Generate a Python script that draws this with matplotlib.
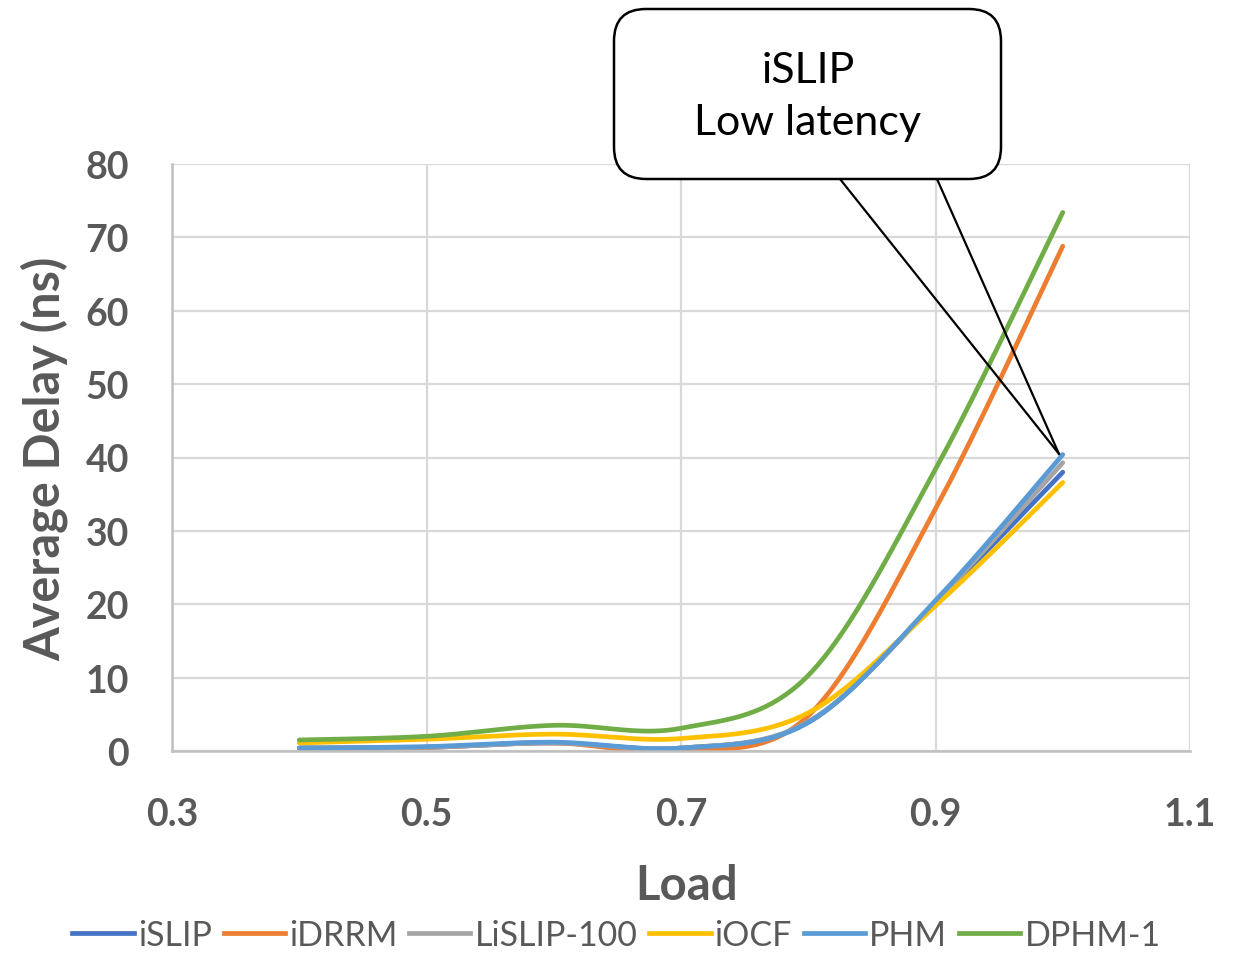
import matplotlib
matplotlib.use("Agg")
import matplotlib.pyplot as plt
import numpy as np
from matplotlib.patches import FancyBboxPatch
from matplotlib.lines import Line2D

load = [0.4, 0.5, 0.6, 0.7, 0.8, 0.9, 1.0]
islip = [0.4, 0.5, 1.1, 0.4, 3.9, 20.2, 38.0]
idrrm = [0.4, 0.5, 1.1, 0.0, 4.8, 33.0, 68.8]
lislip_100 = [0.4, 0.5, 1.1, 0.4, 4.0, 20.3, 39.3]
iocf = [1.1, 1.6, 2.3, 1.7, 5.2, 19.8, 36.6]
phm = [0.4, 0.6, 1.2, 0.4, 3.9, 20.5, 40.4]
dphm_1 = [1.5, 2.0, 3.5, 3.1, 10.3, 38.4, 73.4]

series = ["iSLIP", "iDRRM", "LiSLIP-100", "iOCF", "PHM", "DPHM-1"]
values = [islip, idrrm, lislip_100, iocf, phm, dphm_1]
colors = ["#4472C4", "#ED7D31", "#A5A5A5", "#FFC000", "#5B9BD5", "#70AD47"]

x_ticks = [0.3, 0.5, 0.7, 0.9, 1.1]
y_ticks = [0, 10, 20, 30, 40, 50, 60, 70, 80]

callout_text = "iSLIP\nLow latency"

grey_text = "#595959"
plt.rcParams["font.family"] = ["Lato", "DejaVu Sans"]


def smooth_line(x, y, n=40):
    # excel-style smoothed line (catmull-rom through the points)
    x = np.asarray(x, float)
    y = np.asarray(y, float)
    px = np.r_[x[0], x, x[-1]]
    py = np.r_[y[0], y, y[-1]]
    t = np.linspace(0, 1, n)
    h00 = 2 * t**3 - 3 * t**2 + 1
    h10 = t**3 - 2 * t**2 + t
    h01 = -2 * t**3 + 3 * t**2
    h11 = t**3 - t**2
    xs, ys = [], []
    for i in range(1, len(px) - 2):
        mx1 = (px[i + 1] - px[i - 1]) / 2
        mx2 = (px[i + 2] - px[i]) / 2
        my1 = (py[i + 1] - py[i - 1]) / 2
        my2 = (py[i + 2] - py[i]) / 2
        xs.append(h00 * px[i] + h10 * mx1 + h01 * px[i + 1] + h11 * mx2)
        ys.append(h00 * py[i] + h10 * my1 + h01 * py[i + 1] + h11 * my2)
    return np.concatenate(xs), np.concatenate(ys)


fig = plt.figure(figsize=(12.48, 9.54), dpi=100)
ax = fig.add_axes([172 / 1248, 1 - 752 / 954, 1018 / 1248, 587 / 954])

for name, vals, col in zip(series, values, colors):
    sx, sy = smooth_line(load, vals)
    ax.plot(sx, sy, color=col, linewidth=3.4, label=name, solid_capstyle="round")

ax.set_xlim(0.3, 1.1)
ax.set_ylim(0, 80)
ax.set_xticks(x_ticks)
ax.set_yticks(y_ticks)
ax.set_xticklabels([str(v) for v in x_ticks])
ax.grid(which="both", axis="both", color="#D9D9D9", linewidth=1.6)
ax.set_axisbelow(True)
for s in ["top", "right"]:
    ax.spines[s].set_visible(False)
for s in ["left", "bottom"]:
    ax.spines[s].set_color("#BFBFBF")
    ax.spines[s].set_linewidth(1.8)
ax.tick_params(axis="both", length=0, labelsize=27, labelcolor=grey_text)
ax.tick_params(axis="y", pad=31)
ax.tick_params(axis="x", pad=33)
for lbl in ax.get_xticklabels() + ax.get_yticklabels():
    lbl.set_fontweight("bold")

ax.set_ylabel("Average Delay (ns)", fontsize=35, fontweight="bold", color=grey_text)
ax.yaxis.set_label_coords(-0.102, 0.5)
ax.set_xlabel("Load", fontsize=34, fontweight="bold", color=grey_text)
ax.xaxis.set_label_coords(0.505, -0.19)

handles = [Line2D([0], [0], color=c, linewidth=3.4) for c in colors]
leg = fig.legend(handles, series, loc="center", bbox_to_anchor=(0.494, 0.019),
                 ncol=6, frameon=False, fontsize=24.5, handlelength=1.8,
                 handletextpad=0.12, columnspacing=0.35)
for t in leg.get_texts():
    t.set_color(grey_text)

# speech bubble pointing at the end of the curves
inch = fig.dpi_scale_trans
tip = ax.transData.transform((0.997, 40.5))
tip = fig.dpi_scale_trans.inverted().transform(tip)
for bx in [8.40, 9.37]:
    fig.add_artist(Line2D([bx, tip[0]], [7.74, tip[1]], color="black",
                          linewidth=1.6, transform=inch, zorder=5))
box = FancyBboxPatch((6.14, 7.74), 3.87, 1.70,
                     boxstyle="round,pad=0,rounding_size=0.32",
                     facecolor="white", edgecolor="black", linewidth=1.8,
                     transform=inch, zorder=6)
fig.add_artist(box)
fig.text(8.08, 8.57, callout_text, transform=inch, ha="center", va="center",
         fontsize=31, color="black", linespacing=1.42, zorder=7)

plt.savefig("out.png", dpi=100)
plt.clf()
